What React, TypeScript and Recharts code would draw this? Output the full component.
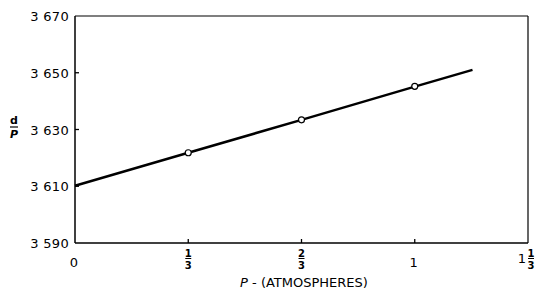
import { ComposedChart, Line, Scatter, XAxis, YAxis, ReferenceLine } from 'recharts';

// fitted line (P in atmospheres, d/P)
const fitP = [0, 1 / 3, 2 / 3, 1, 1.17];
const fitDP = [3610.2, 3621.8, 3633.4, 3645.1, 3651.0];

// measured points
const measP = [1 / 3, 2 / 3, 1];
const measDP = [3621.8, 3633.4, 3645.2];

const xTicks = [0, 1 / 3, 2 / 3, 1, 4 / 3];
const xTickLabels = ['0', '1/3', '2/3', '1', '1 1/3'];
const yTicks = [3590, 3610, 3630, 3650, 3670];

const fitData = fitP.map((p, i) => ({ p, fit: fitDP[i] }));
const measData = measP.map((p, i) => ({ p, meas: measDP[i] }));

const FONT = '"DejaVu Sans", sans-serif';

function XTick(props: any) {
    const { x, y, index } = props;
    const label = xTickLabels[index];
    const parts = label.split(' ');
    const frac = parts[parts.length - 1].includes('/') ? parts[parts.length - 1].split('/') : null;
    const whole = frac ? (parts.length > 1 ? parts[0] : null) : label;
    return (
        <g>
            {index > 0 && index < xTickLabels.length - 1 && (
                <line x1={x} y1={y} x2={x} y2={y - 4} stroke="#000" strokeWidth={1.3} />
            )}
            {frac && !whole && (
                <g fontFamily={FONT} fontSize={10} fontWeight="bold" textAnchor="middle">
                    <text x={x} y={y + 14}>{frac[0]}</text>
                    <line x1={x - 3} y1={y + 15.5} x2={x + 3} y2={y + 15.5} stroke="#000" strokeWidth={1} />
                    <text x={x} y={y + 26}>{frac[1]}</text>
                </g>
            )}
            {frac && whole && (
                <g fontFamily={FONT} fontSize={10} fontWeight="bold" textAnchor="middle">
                    <text x={x - 6} y={y + 20} fontSize={13} fontWeight="normal">{whole}</text>
                    <text x={x + 3} y={y + 14}>{frac[0]}</text>
                    <line x1={x} y1={y + 15.5} x2={x + 6} y2={y + 15.5} stroke="#000" strokeWidth={1} />
                    <text x={x + 3} y={y + 26}>{frac[1]}</text>
                </g>
            )}
            {!frac && (
                <text x={x - 1} y={y + 24} fontFamily={FONT} fontSize={13} textAnchor="middle" fill="#000">
                    {whole}
                </text>
            )}
        </g>
    );
}

function YTick(props: any) {
    const { x, y, payload, index } = props;
    const v = String(payload.value);
    return (
        <g>
            {index > 0 && index < yTicks.length - 1 && (
                <line x1={x} y1={y} x2={x + 4} y2={y} stroke="#000" strokeWidth={1.3} />
            )}
            <text x={x - 6} y={y + 5} fontFamily={FONT} fontSize={13} textAnchor="end" fill="#000" letterSpacing={0.3}>
                {v.slice(0, 1) + ' ' + v.slice(1)}
            </text>
        </g>
    );
}

function Dot(props: any) {
    const { cx, cy } = props;
    return <circle cx={cx} cy={cy} r={3} fill="#fff" stroke="#000" strokeWidth={1.2} />;
}

export default function App() {
    return (
        <div style={{ position: 'absolute', left: 0, top: 0, background: '#fff' }}>
            <ComposedChart width={539} height={294} margin={{ top: 16, right: 11, left: 0, bottom: 0 }}>
                <XAxis
                    type="number"
                    dataKey="p"
                    domain={[0, 4 / 3]}
                    ticks={xTicks}
                    interval={0}
                    height={51}
                    tickSize={0}
                    tickMargin={0}
                    tick={<XTick />}
                    axisLine={{ stroke: '#000', strokeWidth: 1.5 }}
                    allowDuplicatedCategory={false}
                    label={{
                        position: 'insideBottom',
                        offset: 0,
                        content: () => (
                            <text x={304} y={287} fontFamily={FONT} fontSize={13} textAnchor="middle" fill="#000">
                                <tspan fontStyle="italic">P</tspan> - (ATMOSPHERES)
                            </text>
                        ),
                    }}
                />
                <YAxis
                    type="number"
                    domain={[3590, 3670]}
                    ticks={yTicks}
                    interval={0}
                    width={75}
                    tickSize={0}
                    tickMargin={0}
                    tick={<YTick />}
                    axisLine={{ stroke: '#000', strokeWidth: 1.5 }}
                    label={{
                        position: 'insideLeft',
                        content: () => (
                            <g fontFamily={FONT} fontSize={11} fontWeight="bold" textAnchor="middle" fill="#000">
                                <text x={14} y={124}>d</text>
                                <line x1={10} y1={127} x2={18} y2={127} stroke="#000" strokeWidth={1.2} />
                                <text x={14} y={138} fontStyle="italic">P</text>
                            </g>
                        ),
                    }}
                />
                <ReferenceLine y={3670} stroke="#000" strokeWidth={1.2} />
                <ReferenceLine x={4 / 3} stroke="#000" strokeWidth={1.2} />
                <Line
                    data={fitData}
                    dataKey="fit"
                    stroke="#000"
                    strokeWidth={2.5}
                    dot={false}
                    isAnimationActive={false}
                />
                <Scatter data={measData} dataKey="meas" shape={<Dot />} isAnimationActive={false} />
            </ComposedChart>
        </div>
    );
}
